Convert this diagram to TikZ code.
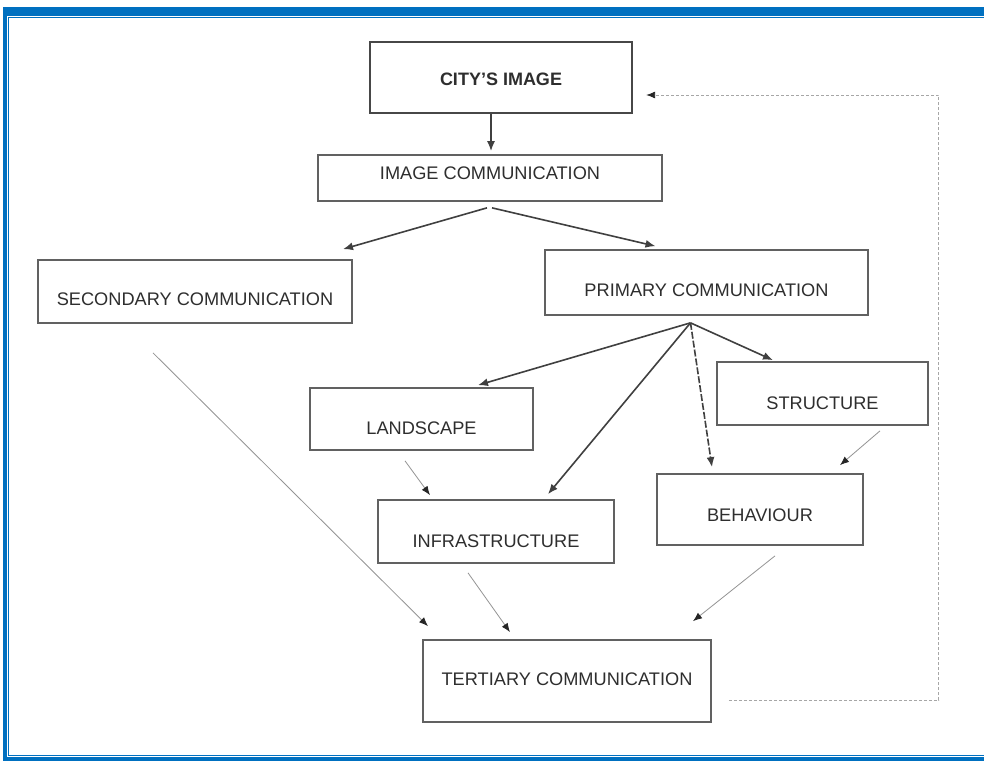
\documentclass[tikz,border=0pt]{standalone}
\usepackage{fontspec}
\setmainfont{Liberation Sans}
\usetikzlibrary{arrows.meta}
\definecolor{frameblue}{HTML}{0070C0}
\definecolor{txt}{HTML}{2E2E2E}
\tikzset{
  boxnode/.style={draw=black!62, line width=1.7pt, fill=white, inner sep=0pt},
  lbl/.style={text=txt, font=\fontsize{18.2}{20}\selectfont},
  mainarr/.style={draw=black!75, line width=1.6pt, -{Latex[length=10pt,width=8pt]}},
  thinarr/.style={draw=black!42, line width=0.8pt, -{Latex[length=9pt,width=7pt,black!85]}},
  fbarr/.style={draw=black!35, line width=0.9pt, dash pattern=on 3pt off 2pt, -{Latex[length=9pt,width=7pt,black!85]}}
}
\begin{document}
\begin{tikzpicture}[x=1pt,y=-1pt]
\useasboundingbox (0,0) rectangle (984,760);
% frame
\fill[frameblue] (3,7) rectangle (995,765);
\fill[white] (7.2,16.3) rectangle (995,757.3);
\draw[frameblue, line width=1.2pt] (8.3,17.6) rectangle (1000,755.2);

% boxes
\node[boxnode, draw=black!72, line width=2.3pt, minimum width=262pt, minimum height=71pt,
  label={[lbl, font=\bfseries\fontsize{18}{20}\selectfont, yshift=-1.5pt]center:CITY'S IMAGE}] (city) at (501,77.5) {};
\node[boxnode, minimum width=344pt, minimum height=46pt,
  label={[lbl, yshift=5pt]center:IMAGE COMMUNICATION}] (imgc) at (490,178) {};
\node[boxnode, minimum width=314pt, minimum height=63pt,
  label={[lbl, yshift=-8pt]center:SECONDARY COMMUNICATION}] (sec) at (195,291.5) {};
\node[boxnode, minimum width=323pt, minimum height=65pt,
  label={[lbl, yshift=-8pt]center:PRIMARY COMMUNICATION}] (prim) at (706.5,282.5) {};
\node[boxnode, minimum width=223pt, minimum height=62pt,
  label={[lbl, yshift=-9pt]center:LANDSCAPE}] (land) at (421.5,419) {};
\node[boxnode, minimum width=211pt, minimum height=63pt,
  label={[lbl, yshift=-10pt]center:STRUCTURE}] (struct) at (822.5,393.5) {};
\node[boxnode, minimum width=236pt, minimum height=63pt,
  label={[lbl, yshift=-10pt]center:INFRASTRUCTURE}] (infra) at (496,531.5) {};
\node[boxnode, minimum width=206pt, minimum height=71pt,
  label={[lbl, yshift=-6pt]center:BEHAVIOUR}] (behav) at (760,509.5) {};
\node[boxnode, minimum width=288pt, minimum height=82pt,
  label={[lbl, yshift=2pt]center:TERTIARY COMMUNICATION}] (tert) at (567,681) {};

% main arrows
\draw[mainarr] ([xshift=-10pt]city.south) -- ([xshift=1pt,yshift=3pt]imgc.north);
\draw[mainarr] ([xshift=-3pt,yshift=-6pt]imgc.south) -- ([xshift=148pt,yshift=10pt]sec.north);
\draw[mainarr] ([xshift=2pt,yshift=-6pt]imgc.south) -- ([xshift=-51pt,yshift=3pt]prim.north);

\coordinate (pfan) at ([xshift=-16pt,yshift=-7pt]prim.south);
\draw[mainarr] (pfan) -- ([xshift=56.5pt,yshift=2pt]land.north);
\draw[mainarr] (pfan) -- ([xshift=52pt,yshift=5pt]infra.north);
\draw[mainarr, dash pattern=on 7pt off 2pt] (pfan) -- ([xshift=-48pt,yshift=6pt]behav.north);
\draw[mainarr] (pfan) -- ([xshift=-49.5pt,yshift=1pt]struct.north);

% thin arrows
\draw[thinarr] ([xshift=-16.5pt,yshift=-10pt]land.south) -- ([xshift=-66pt,yshift=4pt]infra.north);
\draw[thinarr] ([xshift=57.5pt,yshift=-5pt]struct.south) -- ([xshift=80pt,yshift=8pt]behav.north);
\draw[thinarr] ([xshift=-42pt,yshift=-29pt]sec.south) -- ([xshift=-139pt,yshift=13pt]tert.north);
\draw[thinarr] ([xshift=-28pt,yshift=-9pt]infra.south) -- ([xshift=-57pt,yshift=7pt]tert.north);
\draw[thinarr] ([xshift=15pt,yshift=-10pt]behav.south) -- ([xshift=126pt,yshift=18pt]tert.north);

% feedback
\draw[fbarr] ([xshift=17pt,yshift=-19pt]tert.east) -- ++(210,0) |- ([xshift=13pt,yshift=-17.5pt]city.east);
\end{tikzpicture}
\end{document}
